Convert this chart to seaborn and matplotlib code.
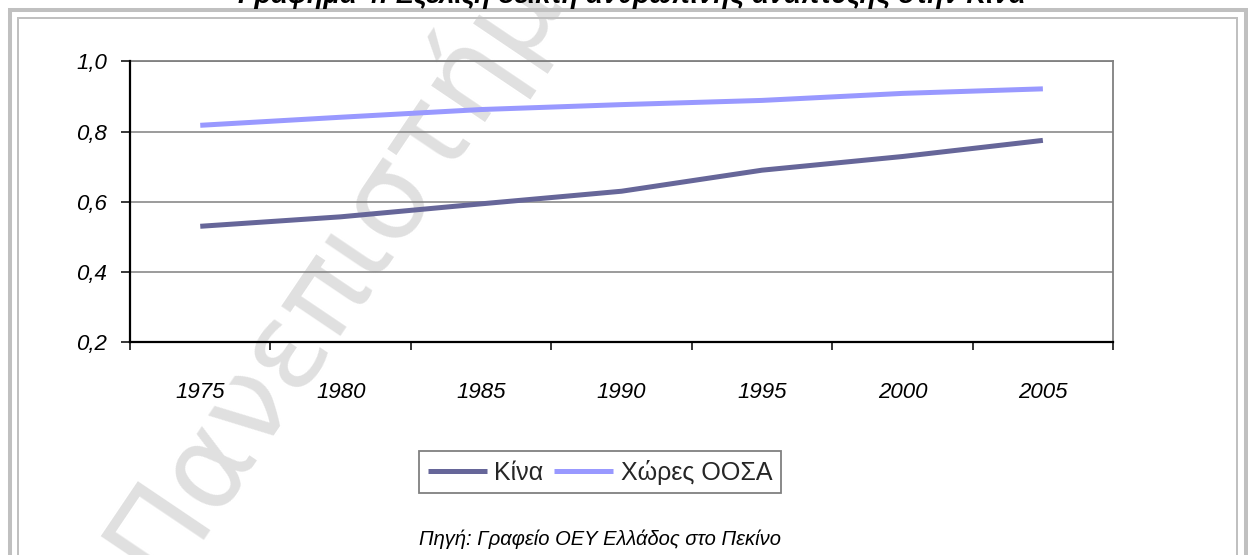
import numpy as np
import pandas as pd
import matplotlib
matplotlib.use("Agg")
import matplotlib.pyplot as plt
import seaborn as sns
from matplotlib.lines import Line2D
from matplotlib import font_manager

# ---------------- data ----------------
years = ["1975", "1980", "1985", "1990", "1995", "2000", "2005"]
china = [0.530, 0.557, 0.594, 0.630, 0.690, 0.729, 0.775]
oecd = [0.818, 0.841, 0.863, 0.877, 0.889, 0.909, 0.922]
series_names = ["Κίνα", "Χώρες ΟΟΣΑ"]
y_ticks = [0.2, 0.4, 0.6, 0.8, 1.0]
y_tick_labels = ["0,2", "0,4", "0,6", "0,8", "1,0"]
title_text = "Γράφημα 4: Εξέλιξη δείκτη ανθρώπινης ανάπτυξης στην Κίνα"
source_text = "Πηγή: Γραφείο ΟΕΥ Ελλάδος στο Πεκίνο"
watermark_text = "Πανεπιστήμιο"

df = pd.DataFrame({
    "pos": list(range(len(years))) * 2,
    "value": china + oecd,
    "series": [series_names[0]] * len(years) + [series_names[1]] * len(years),
})

sns.set_theme(style="white")
names = {f.name for f in font_manager.fontManager.ttflist}
base_font = "Liberation Sans" if "Liberation Sans" in names else "DejaVu Sans"
narrow_font = "Liberation Sans Narrow" if "Liberation Sans Narrow" in names else base_font
plt.rcParams["font.family"] = [base_font, "DejaVu Sans"]

fig = plt.figure(figsize=(12.48, 5.55), dpi=100)
fig.patch.set_facecolor("white")
ax = fig.add_axes([0.1042, 0.3838, 0.7877, 0.5054])
ax.patch.set_alpha(0)

palette = {series_names[0]: "#666699", series_names[1]: "#9999ff"}
sns.lineplot(data=df, x="pos", y="value", hue="series", palette=palette,
             linewidth=3.6, sort=False, ax=ax, legend=False)
for ln in ax.get_lines():
    ln.set_solid_capstyle("butt")

ax.set_xlim(-0.5, len(years) - 0.5)
ax.set_ylim(0.2, 1.0)
ax.set_xlabel("")
ax.set_ylabel("")

ax.set_yticks(y_ticks)
ax.set_yticklabels(y_tick_labels, fontstyle="italic", fontsize=16, family=base_font, color="black")
ax.tick_params(axis="y", direction="out", length=6.5, width=1.1, color="black", pad=10, left=True)

ax.set_xticks(range(len(years)))
x_size = 18 if narrow_font != base_font else 16
ax.set_xticklabels(years, fontstyle="italic", fontsize=x_size, family=narrow_font, color="black")
ax.tick_params(axis="x", which="major", length=0, pad=29)
ax.set_xticks(np.arange(-0.5, len(years), 1.0), minor=True)
ax.tick_params(axis="x", which="minor", direction="out", length=6, width=1.1, color="black", bottom=True)

ax.grid(axis="y", color="#808080", linewidth=1.1)
ax.grid(axis="x", visible=False)
ax.set_axisbelow(True)
for s in ["left", "bottom"]:
    ax.spines[s].set_color("black")
    ax.spines[s].set_linewidth(1.6)
    ax.spines[s].set_zorder(3)
for s in ["top", "right"]:
    ax.spines[s].set_color("#808080")
    ax.spines[s].set_linewidth(1.3)
    ax.spines[s].set_visible(True)

# legend
handles = [Line2D([0], [0], color=palette[n], linewidth=3.6, solid_capstyle="butt") for n in series_names]
leg = fig.legend(handles, series_names, loc="center", bbox_to_anchor=(0.4808, 0.1495),
                 ncol=2, frameon=True, fancybox=False, edgecolor="#808080", framealpha=1,
                 prop={"family": base_font, "size": 18}, handlelength=2.35,
                 handletextpad=0.3, columnspacing=0.45, borderpad=0.35)
leg.get_frame().set_linewidth(1.3)

# title (cut at the top) and source
fig.text(0.506, 1 - 3 / 555, title_text, ha="center", va="baseline", fontsize=19.5,
         fontweight="bold", fontstyle="italic", family=base_font, color="black")
fig.text(0.4808, 0.018, source_text, ha="center", va="baseline", fontsize=14.5,
         fontstyle="italic", family=base_font, color="black")

# watermark
fig.text(162 / 1248, 1 - 585 / 555, watermark_text, rotation=56, rotation_mode="anchor",
         ha="left", va="baseline", fontsize=86, color="#e0e0e0", zorder=-5,
         family="DejaVu Sans")

# page frame
W, H = 1248.0, 555.0
def frame(x0, x1, ytop, lw):
    fig.add_artist(Line2D([x0 / W, x0 / W, x1 / W, x1 / W],
                          [-0.1, 1 - ytop / H, 1 - ytop / H, -0.1],
                          transform=fig.transFigure, color="#c0c0c0", linewidth=lw,
                          solid_joinstyle="miter", zorder=1))
frame(9.5, 1245.5, 10, 2.9)
frame(17.5, 1237, 18, 1.44)

fig.savefig("out.png", dpi=100)
